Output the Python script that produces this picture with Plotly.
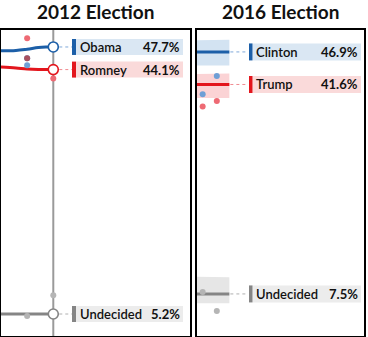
import plotly.graph_objects as go

# ---------------- data ----------------
# 2012: polling average over the last two weeks (days before election)
days_2012 = [-14, -10, -7, -4, -2, 0]
obama_trend = [47.1, 47.15, 47.35, 47.6, 47.68, 47.7]
romney_trend = [44.5, 44.35, 44.2, 44.12, 44.1, 44.1]
undecided_2012_trend = [5.2, 5.2, 5.2, 5.2, 5.2, 5.2]

obama_poll_days = [-7, -7]
obama_polls = [44.8, 45.9]
romney_poll_days = [-7, -7, 0]
romney_polls = [49.1, 45.9, 42.7]
undec12_poll_days = [-7, 0]
undec12_polls = [4.9, 8.2]

# 2016: final average with uncertainty band
days_2016 = [-8, 0]
clinton_avg = [46.9, 46.9]
clinton_hi = [48.8, 48.9]
clinton_lo = [44.7, 44.7]
trump_avg = [41.6, 41.6]
trump_hi = [43.3, 43.4]
trump_lo = [39.4, 39.4]
undec16_avg = [7.5, 7.5]
undec16_hi = [10.3, 10.2]
undec16_lo = [6.0, 6.0]

clinton_poll_days = [-3.1, -6.6]
clinton_polls = [43.0, 40.0]
trump_poll_days = [-6.6, -3.1]
trump_polls = [38.0, 38.9]
undec16_poll_days = [-6.6, -3.1]
undec16_polls = [7.8, 4.7]

names_2012 = ["Obama", "Romney", "Undecided"]
finals_2012 = [47.7, 44.1, 5.2]
names_2016 = ["Clinton", "Trump", "Undecided"]
finals_2016 = [46.9, 41.6, 7.5]

# ---------------- style ----------------
W, H = 368, 337
ML, MR, MT, MB = 1, 4, 30, 1
PW = W - ML - MR
FONT = "Lato"

BLUE, RED, GRAY = "#1c5fa8", "#e3161d", "#858585"
BLUE_DOT, RED_DOT, GRAY_DOT, MIX_DOT = "#6e9fd6", "#ee6a74", "#b5b5b5", "#a8505f"
BLUE_BOX, RED_BOX, GRAY_BOX = "#dae7f3", "#fadada", "#ececec"
BLUE_BAND, RED_BAND, GRAY_BAND = "#d3e3f2", "#fbd3d5", "#e6e6e6"


def px(x):
    return (x - ML) / PW


fig = go.Figure()

# ---- 2012 panel ----
for d, v, c in [(obama_trend, BLUE, None), (romney_trend, RED, None), (undecided_2012_trend, GRAY, None)]:
    pass

for trend, col in [(obama_trend, BLUE), (romney_trend, RED), (undecided_2012_trend, GRAY)]:
    fig.add_trace(go.Scatter(x=days_2012, y=trend, mode="lines",
                             line=dict(color=col, width=3, shape="spline"),
                             xaxis="x", yaxis="y", hoverinfo="skip"))

overlap = set(zip(obama_poll_days, obama_polls)) & set(zip(romney_poll_days, romney_polls))
fig.add_trace(go.Scatter(x=obama_poll_days, y=obama_polls, mode="markers",
                         marker=dict(color=BLUE_DOT, size=6), xaxis="x", yaxis="y"))
fig.add_trace(go.Scatter(x=romney_poll_days, y=romney_polls, mode="markers",
                         marker=dict(color=[MIX_DOT if (d, v) in overlap else RED_DOT
                                            for d, v in zip(romney_poll_days, romney_polls)], size=6),
                         xaxis="x", yaxis="y"))
fig.add_trace(go.Scatter(x=undec12_poll_days, y=undec12_polls, mode="markers",
                         marker=dict(color=GRAY_DOT, size=6), xaxis="x", yaxis="y"))

for trend, col in [(obama_trend, BLUE), (romney_trend, RED), (undecided_2012_trend, GRAY)]:
    fig.add_trace(go.Scatter(x=[days_2012[-1]], y=[trend[-1]], mode="markers",
                             marker=dict(color="white", size=10, line=dict(color=col, width=1.6)),
                             xaxis="x", yaxis="y"))

# ---- 2016 panel ----
for hi, lo, col in [(clinton_hi, clinton_lo, BLUE_BAND), (trump_hi, trump_lo, RED_BAND),
                    (undec16_hi, undec16_lo, GRAY_BAND)]:
    fig.add_trace(go.Scatter(x=days_2016 + days_2016[::-1], y=hi + lo[::-1], mode="lines",
                             fill="toself", fillcolor=col, line=dict(width=0),
                             xaxis="x2", yaxis="y2"))

for avg, col in [(clinton_avg, BLUE), (trump_avg, RED), (undec16_avg, GRAY)]:
    fig.add_trace(go.Scatter(x=days_2016, y=avg, mode="lines", line=dict(color=col, width=3),
                             xaxis="x2", yaxis="y2"))

for dd, vv, col in [(clinton_poll_days, clinton_polls, BLUE_DOT), (trump_poll_days, trump_polls, RED_DOT),
                    (undec16_poll_days, undec16_polls, GRAY_DOT)]:
    fig.add_trace(go.Scatter(x=dd, y=vv, mode="markers", marker=dict(color=col, size=6),
                             xaxis="x2", yaxis="y2"))

shapes = []
annotations = []

# vertical election-day line (2012)
shapes.append(dict(type="line", xref="x", yref="y domain", x0=0, x1=0, y0=0, y1=1,
                   line=dict(color="#9a9a9a", width=2), layer="below"))

# labels
def add_labels(names, finals, colors, boxes, dots, xref, yref, xanchor_day, dot_from, dot_to,
               bar_x0, bar_x1, box_x1, name_x, pct_x, half):
    for n, v, c, b, dc in zip(names, finals, colors, boxes, dots):
        shapes.append(dict(type="line", xref=xref, yref=yref, xsizemode="pixel", xanchor=xanchor_day,
                           x0=dot_from, x1=dot_to, y0=v, y1=v,
                           line=dict(color=dc, width=1, dash="dot")))
        shapes.append(dict(type="rect", xref="paper", yref=yref, ysizemode="pixel", yanchor=v,
                           x0=px(bar_x1), x1=px(box_x1), y0=-half, y1=half,
                           fillcolor=b, line=dict(width=0), layer="below"))
        shapes.append(dict(type="rect", xref="paper", yref=yref, ysizemode="pixel", yanchor=v,
                           x0=px(bar_x0), x1=px(bar_x1), y0=-half, y1=half,
                           fillcolor=c, line=dict(width=0)))
        annotations.append(dict(xref="paper", yref=yref, x=px(name_x), y=v, text=n,
                                xanchor="left", yanchor="middle", showarrow=False,
                                font=dict(family=FONT, size=13, color="#111", weight=600)))
        annotations.append(dict(xref="paper", yref=yref, x=px(pct_x), y=v, text=f"<b>{v:.1f}%</b>",
                                xanchor="right", yanchor="middle", showarrow=False,
                                font=dict(family=FONT, size=13, color="#111")))


add_labels(names_2012, finals_2012, [BLUE, RED, GRAY], [BLUE_BOX, RED_BOX, GRAY_BOX],
           ["#7fa9d9", "#f08a90", "#b0b0b0"], "x", "y", 0, 6, 19, 72, 76, 183, 78, 182, 8)
add_labels(names_2016, finals_2016, [BLUE, RED, GRAY], [BLUE_BOX, RED_BOX, GRAY_BOX],
           ["#7fa9d9", "#f08a90", "#b0b0b0"], "x2", "y2", 0, 1, 19, 249, 252.5, 361, 254, 360, 8.5)

# titles
for title, cx in [("2012 Election", (1 + 190) / 2), ("2016 Election", (197 + 364) / 2)]:
    annotations.append(dict(xref="paper", yref="paper", x=px(cx), y=1 + (MT - 12) / (H - MT - MB),
                            text=f"<b>{title}</b>", xanchor="center", yanchor="middle", showarrow=False,
                            font=dict(family=FONT, size=19, color="#111")))

axis_common = dict(showline=True, mirror=True, linewidth=2, linecolor="black", showgrid=False,
                   zeroline=False, showticklabels=False, ticks="", fixedrange=True)

fig.update_layout(
    width=W, height=H, margin=dict(l=ML, r=MR, t=MT, b=MB),
    paper_bgcolor="white", plot_bgcolor="white", showlegend=False,
    xaxis=dict(domain=[0, px(190)], range=[-14, 36.6], **axis_common),
    yaxis=dict(domain=[0, 1], range=[1.7, 50.4], anchor="x", **axis_common),
    xaxis2=dict(domain=[px(197), 1], range=[-8, 33.3], anchor="y2", **axis_common),
    yaxis2=dict(domain=[0, 1], range=[0.65, 50.47], anchor="x2", **axis_common),
    shapes=shapes, annotations=annotations,
)

fig.write_html("out.html")
